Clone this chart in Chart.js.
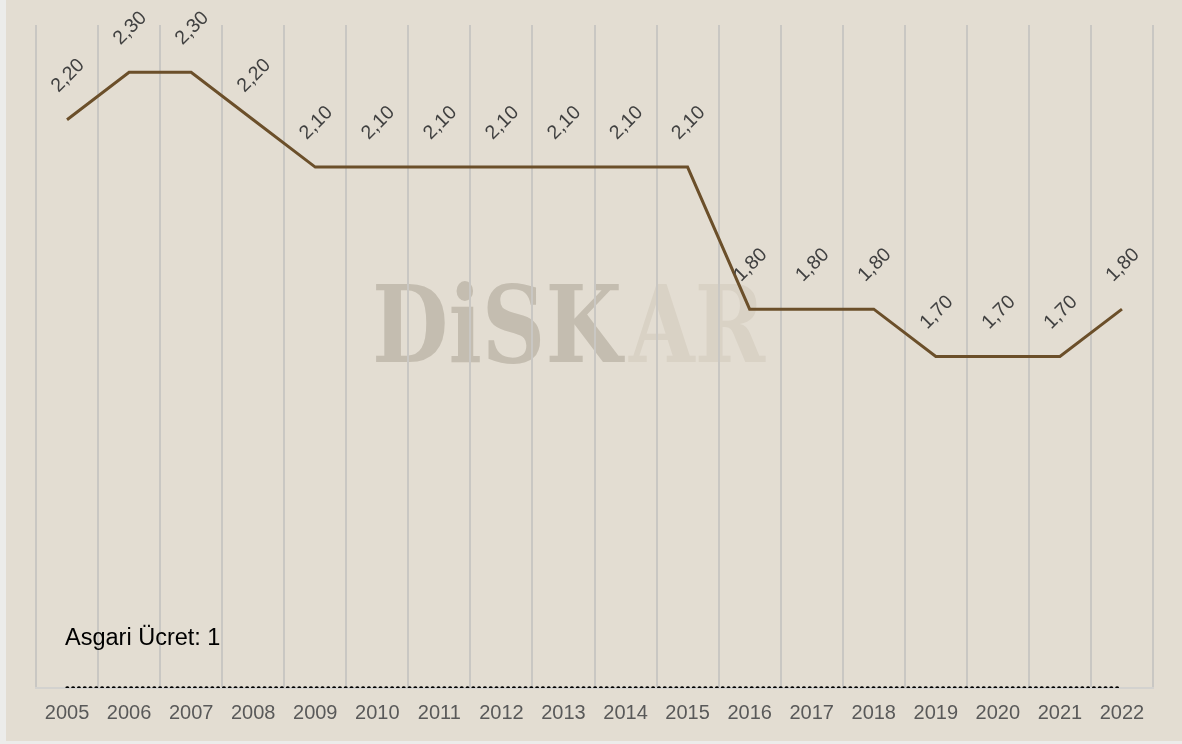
<!DOCTYPE html>
<html lang="tr">
<head>
    <meta charset="UTF-8">
    <title>Asgari Ücret Oranı</title>
    <script src="https://cdn.jsdelivr.net/npm/chart.js"></script>
    <style>
        html, body { margin: 0; padding: 0; background: #ececea; }
        .wrap {
            position: absolute; left: 6px; top: 0;
            width: 1176px; height: 741px;
            background: #e3ddd2;
        }
    </style>
</head>
<body>
<div class="wrap">
    <canvas id="ratioChart" width="1176" height="741"></canvas>
</div>

<script>
    // data
    const years = ['2005', '2006', '2007', '2008', '2009', '2010', '2011', '2012', '2013',
                   '2014', '2015', '2016', '2017', '2018', '2019', '2020', '2021', '2022'];
    const ratio = [2.2, 2.3, 2.3, 2.2, 2.1, 2.1, 2.1, 2.1, 2.1, 2.1, 2.1, 1.8, 1.8, 1.8, 1.7, 1.7, 1.7, 1.8];
    const minWage = years.map(() => 1);
    const minWageLabel = 'Asgari Ücret: 1';

    // watermark + rotated value labels + reference text
    const decorations = {
        id: 'decorations',
        beforeDraw(chart) {
            const ctx = chart.ctx;
            ctx.save();
            ctx.font = 'bold 106px "DejaVu Serif"';
            ctx.textBaseline = 'alphabetic';
            const drawFit = (txt, x, w, color) => {
                const m = ctx.measureText(txt).width;
                ctx.save();
                ctx.translate(x, 362);
                ctx.scale(w / m, 1);
                ctx.fillStyle = color;
                ctx.fillText(txt, 0, 0);
                ctx.restore();
            };
            drawFit('DiSK', 366, 250, '#c4bdb0');
            drawFit('AR', 623, 136, '#d9d2c5');
            ctx.restore();
        },
        afterDatasetsDraw(chart) {
            const ctx = chart.ctx;
            const meta = chart.getDatasetMeta(0);
            ctx.save();
            ctx.font = '19.5px "Liberation Sans", Arial';
            ctx.fillStyle = '#404040';
            ctx.textAlign = 'center';
            ctx.textBaseline = 'middle';
            meta.data.forEach((pt, i) => {
                ctx.save();
                ctx.translate(pt.x + 1, pt.y - 44);
                ctx.rotate(-Math.PI / 4);
                ctx.fillText(ratio[i].toFixed(2).replace('.', ','), 0, 0);
                ctx.restore();
            });
            const ref = chart.getDatasetMeta(1).data[0];
            ctx.font = '23.5px "Liberation Sans", Arial';
            ctx.fillStyle = '#000000';
            ctx.textAlign = 'left';
            ctx.textBaseline = 'alphabetic';
            ctx.fillText(minWageLabel, ref.x - 2, 645);
            ctx.restore();
        }
    };

    new Chart(document.getElementById('ratioChart'), {
        type: 'line',
        data: {
            labels: years,
            datasets: [{
                label: 'Oran',
                data: ratio,
                borderColor: '#6b4f2a',
                borderWidth: 3,
                pointRadius: 0,
                tension: 0,
                borderJoinStyle: 'miter'
            }, {
                label: 'Asgari Ücret',
                data: minWage,
                borderColor: '#000000',
                borderWidth: 3.4,
                borderDash: [0.6, 5.2],
                borderCapStyle: 'round',
                pointRadius: 0
            }]
        },
        plugins: [decorations],
        options: {
            responsive: false,
            animation: false,
            layout: { padding: { left: 30, right: 29, top: 25, bottom: 3 } },
            plugins: {
                legend: { display: false },
                tooltip: { enabled: false }
            },
            scales: {
                x: {
                    offset: true,
                    grid: {
                        offset: true,
                        color: '#c9c7c3',
                        lineWidth: 2,
                        drawTicks: false
                    },
                    border: { color: '#d3d2cf', width: 2 },
                    ticks: {
                        padding: 13,
                        color: '#595959',
                        font: { family: '"Liberation Sans", Arial', size: 20 }
                    }
                },
                y: {
                    display: false,
                    min: 1,
                    max: 2.4
                }
            }
        }
    });
</script>
</body>
</html>
